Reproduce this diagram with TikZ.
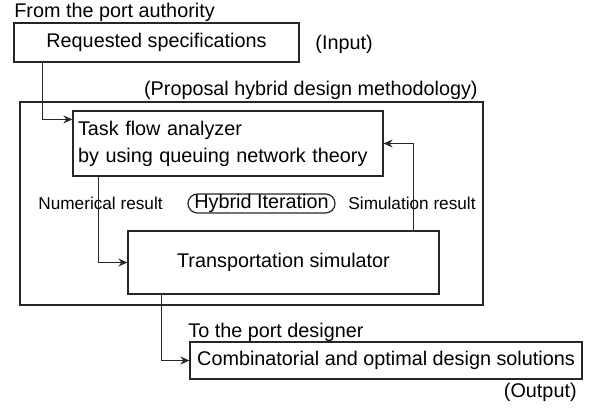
\documentclass[tikz,border=0pt]{standalone}
\usepackage{fontspec}
\setmainfont{Liberation Sans}
\usetikzlibrary{arrows.meta}
\begin{document}
\begin{tikzpicture}[x=0.5pt,y=-0.5pt,
  every node/.style={font=\fontsize{9.9pt}{13.5pt}\selectfont},
  box/.style={draw=black!85, line width=0.6pt, inner sep=0pt},
  lbl/.style={inner sep=0pt},
  small/.style={font=\fontsize{8.6pt}{10pt}\selectfont},
  arr/.style={draw=black!85, line width=0.6pt, -{Stealth[length=4.5pt,width=4pt]}}]
\useasboundingbox (0,0) rectangle (598,417);
% labels
\node[lbl, anchor=base west] (fromtxt) at (14,18) {From the port authority};
\node[lbl, anchor=base west] (input) at (315,50) {(Input)};
\node[lbl, anchor=base east] (prop) at (478,96) {(Proposal hybrid design methodology)};
\node[lbl, small, anchor=base west] (numres) at (38,209) {Numerical result};
\node[lbl, small, anchor=base east] (simres) at (476,209) {Simulation result};
\node[lbl, anchor=base west] (todes) at (188,337) {To the port designer};
\node[lbl, anchor=base east] (output) at (577,397) {(Output)};
% boxes
\node[box, minimum width=142.5pt, minimum height=19.5pt] (req) at (156.5,42.5) {Requested specifications};
\node[box, minimum width=231.5pt, minimum height=101.5pt] (outer) at (251.5,203.5) {};
\node[box, minimum height=32.5pt, text width=150pt, inner xsep=2.5pt, align=left] (task) at (228,143.5)
  {Task flow analyzer\\by using queuing network theory};
\node[box, minimum width=73.5pt, minimum height=9.5pt, rounded corners=4.75pt] (hyb) at (261.5,203.5) {Hybrid Iteration};
\node[box, minimum width=155.5pt, minimum height=31.5pt] (sim) at (283.5,262.5) {Transportation simulator};
\node[box, minimum width=196pt, minimum height=18.5pt] (out) at (386,360.5) {Combinatorial and optimal design solutions};
% connectors
\draw[arr] (req.south west) ++(29,0) |- ([yshift=-4.5pt]task.north west);
\draw[arr] (task.south west) ++(26,0) |- (sim.west);
\draw[arr] (sim.north east) ++(-26,0) |- (task.east);
\draw[arr] (sim.south west) ++(34,0) |- (out.west);
\end{tikzpicture}
\end{document}
